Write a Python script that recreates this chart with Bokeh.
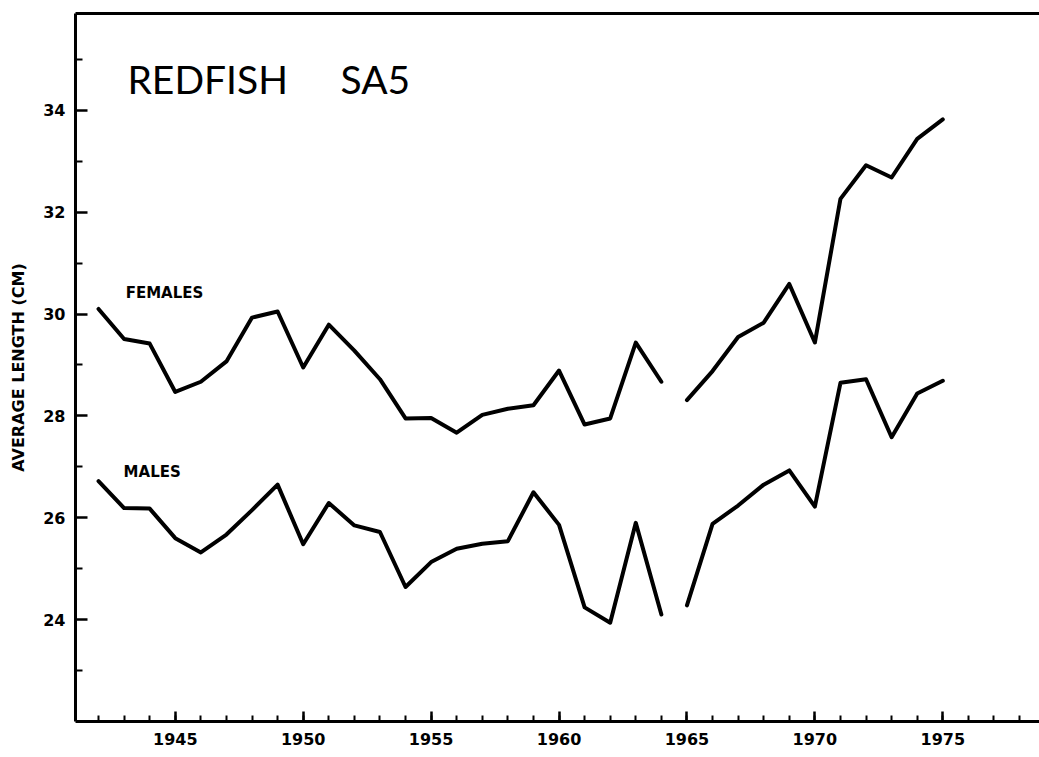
from bokeh.plotting import figure
from bokeh.models import FixedTicker, LinearAxis, Range1d, Label, ColumnDataSource
from bokeh.embed import file_html
from bokeh.resources import INLINE

# ---- data ----
years = list(range(1942, 1976))
females = [30.10, 29.51, 29.42, 28.47, 28.67, 29.07, 29.93, 30.05, 28.95, 29.79,
           29.28, 28.72, 27.95, 27.96, 27.67, 28.02, 28.14, 28.21, 28.89, 27.83,
           27.95, 29.44, 28.67,
           28.31, 28.88, 29.55, 29.83, 30.59, 29.44, 32.26, 32.92, 32.68, 33.44, 33.82]
males = [26.72, 26.19, 26.18, 25.60, 25.32, 25.67, 26.15, 26.65, 25.48, 26.29,
         25.85, 25.72, 24.64, 25.13, 25.39, 25.49, 25.54, 26.50, 25.86, 24.24,
         23.94, 25.90, 24.10,
         24.28, 25.88, 26.24, 26.65, 26.93, 26.22, 28.65, 28.72, 27.58, 28.44, 28.69]
break_after = 1964  # the lines are not joined between 1964 and 1965

y_ticks = [24, 26, 28, 30, 32, 34]
y_minor = [23, 25, 27, 29, 31, 33, 35]
x_ticks = [1945, 1950, 1955, 1960, 1965, 1970, 1975]
x_minor = list(range(1942, 1979))

title_left = "REDFISH"
title_right = "SA5"
y_label = "AVERAGE LENGTH (CM)"
series_names = ["FEMALES", "MALES"]

# ---- build segments ----
def split(xs, ys, brk):
    a = [(x, y) for x, y in zip(xs, ys) if x <= brk]
    b = [(x, y) for x, y in zip(xs, ys) if x > brk]
    return [[t[0] for t in a], [t[0] for t in b]], [[t[1] for t in a], [t[1] for t in b]]

fx, fy = split(years, females, break_after)
mx, my = split(years, males, break_after)
src = ColumnDataSource(dict(xs=fx + mx, ys=fy + my))

p = figure(width=1039, height=757, output_backend="svg", toolbar_location=None,
           x_range=Range1d(1941.1, 1978.78), y_range=Range1d(22, 35.9),
           min_border_left=75, min_border_right=0, min_border_top=13,
           min_border_bottom=36)
p.outline_line_color = None
p.grid.visible = False
p.background_fill_color = "white"
p.border_fill_color = "white"

p.multi_line(xs="xs", ys="ys", source=src, line_color="black", line_width=4,
             line_join="round", line_cap="round")

tick_font = "DejaVu Sans"

ya = p.yaxis[0]
ya.ticker = FixedTicker(ticks=y_ticks, minor_ticks=y_minor)
ya.axis_line_width = 3
ya.axis_line_color = "black"
ya.major_tick_in = 12
ya.major_tick_out = 0
ya.minor_tick_in = 7
ya.minor_tick_out = 0
ya.major_tick_line_width = 2.5
ya.minor_tick_line_width = 2
ya.major_label_text_font = tick_font
ya.major_label_text_font_style = "bold"
ya.major_label_text_font_size = "16px"
ya.major_label_text_color = "black"
ya.major_label_standoff = 10
ya.axis_label = y_label
ya.axis_label_text_font = tick_font
ya.axis_label_text_font_style = "bold"
ya.axis_label_text_font_size = "16px"
ya.axis_label_text_color = "black"
ya.axis_label_standoff = 12

xa = p.xaxis[0]
xa.ticker = FixedTicker(ticks=x_ticks, minor_ticks=x_minor)
xa.axis_line_width = 3
xa.axis_line_color = "black"
xa.major_tick_in = 10
xa.major_tick_out = 0
xa.minor_tick_in = 6
xa.minor_tick_out = 0
xa.major_tick_line_width = 2.5
xa.minor_tick_line_width = 2
xa.major_label_text_font = tick_font
xa.major_label_text_font_style = "bold"
xa.major_label_text_font_size = "16px"
xa.major_label_text_color = "black"
xa.major_label_standoff = 11

top = LinearAxis(ticker=FixedTicker(ticks=[]), major_label_text_font_size="0px",
                 major_tick_in=0, major_tick_out=0, minor_tick_in=0, minor_tick_out=0,
                 major_label_standoff=0, axis_line_width=3, axis_line_color="black")
p.add_layout(top, "above")

p.add_layout(Label(x=1943.13, y=34.62, text=title_left, text_font="Lato",
                   text_font_size="39px", text_color="black",
                   text_baseline="alphabetic"))
p.add_layout(Label(x=1951.46, y=34.62, text=title_right, text_font="Lato",
                   text_font_size="39px", text_color="black",
                   text_baseline="alphabetic"))
p.add_layout(Label(x=1943.06, y=30.42, text=series_names[0], text_font=tick_font,
                   text_font_style="bold", text_font_size="15px", text_color="black",
                   text_baseline="alphabetic"))
p.add_layout(Label(x=1942.98, y=26.89, text=series_names[1], text_font=tick_font,
                   text_font_style="bold", text_font_size="15px", text_color="black",
                   text_baseline="alphabetic"))

open("out.html", "w").write(file_html(p, INLINE))
